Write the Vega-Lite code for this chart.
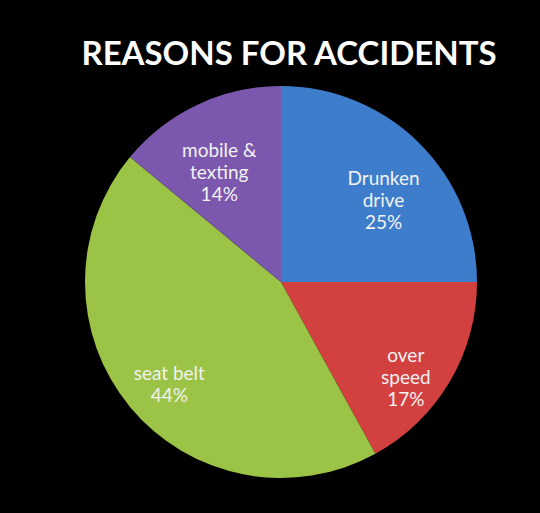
{
  "$schema": "https://vega.github.io/schema/vega-lite/v6.json",
  "autosize": {"type": "none"},
  "width": 518,
  "height": 462,
  "padding": {"left": 22, "top": 51, "right": 0, "bottom": 0},
  "background": "black",
  "config": {"view": {"stroke": null}},
  "title": {
    "text": "REASONS FOR ACCIDENTS",
    "font": "Lato",
    "fontSize": 33,
    "fontWeight": "bold",
    "color": "white",
    "anchor": "middle",
    "baseline": "alphabetic",
    "offset": -47,
    "dx": 8
  },
  "data": {
    "values": [
      {"reason": "Drunken drive", "label": ["Drunken", "drive", "25%"], "value": 25, "order": 1},
      {"reason": "over speed", "label": ["over", "speed", "17%"], "value": 17, "order": 2},
      {"reason": "seat belt", "label": ["seat belt", "44%"], "value": 44, "order": 3},
      {"reason": "mobile & texting", "label": ["mobile &", "texting", "14%"], "value": 14, "order": 4}
    ]
  },
  "encoding": {
    "theta": {"field": "value", "type": "quantitative", "stack": true},
    "order": {"field": "order", "type": "quantitative"}
  },
  "layer": [
    {
      "mark": {"type": "arc", "outerRadius": 196},
      "encoding": {
        "color": {
          "field": "reason",
          "type": "nominal",
          "scale": {
            "domain": ["Drunken drive", "over speed", "seat belt", "mobile & texting"],
            "range": ["#3d7dcc", "#d24040", "#9bc346", "#7b58ad"]
          },
          "legend": null
        }
      }
    },
    {
      "mark": {"type": "text", "radius": 145, "font": "Lato", "fontSize": 19, "lineHeight": 22, "color": "#f2f2f2", "align": "center", "baseline": "middle"},
      "encoding": {
        "text": {"field": "label"}
      }
    }
  ]
}
